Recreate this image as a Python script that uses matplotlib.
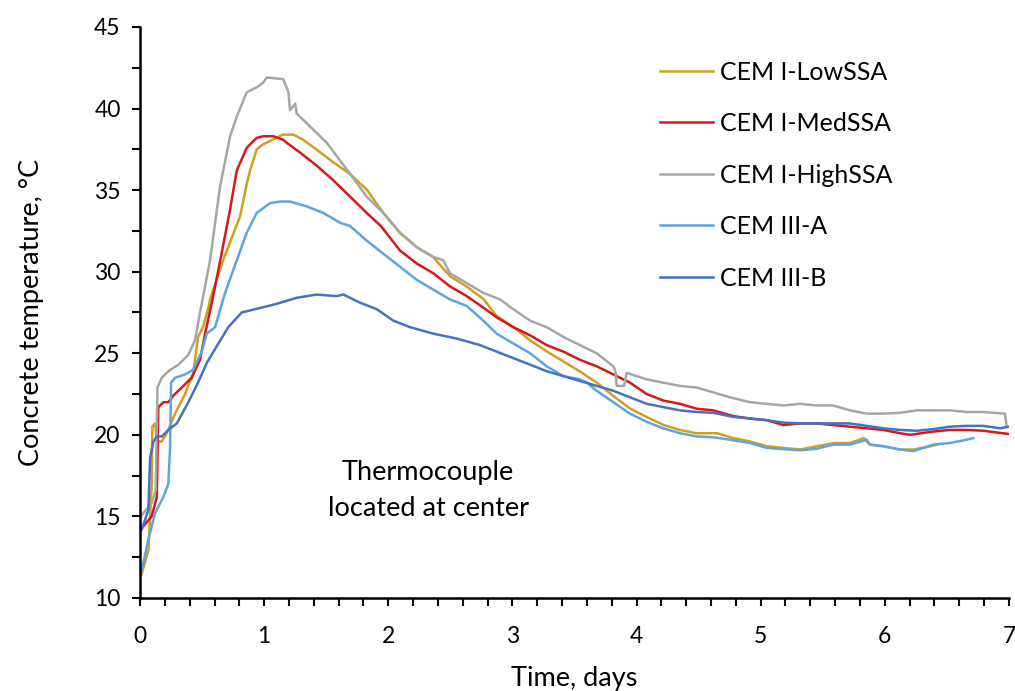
import numpy as np
import matplotlib
matplotlib.use("Agg")
import matplotlib.pyplot as plt
from matplotlib.ticker import MultipleLocator

plt.rcParams["font.family"] = ["Lato", "DejaVu Sans"]

# values (days, deg C)
low_x = [0.0, 0.014, 0.067, 0.081, 0.094, 0.099, 0.121, 0.135, 0.175, 0.215, 0.282, 0.362, 0.429,
         0.467, 0.507, 0.548, 0.564, 0.669, 0.806, 0.860, 0.886, 0.940, 0.99, 1.07, 1.15, 1.235,
         1.31, 1.42, 1.557, 1.69, 1.83, 1.96, 2.09, 2.23, 2.36, 2.50, 2.63, 2.77, 2.87, 3.01,
         3.14, 3.28, 3.41, 3.54, 3.68, 3.81, 3.95, 4.08, 4.22, 4.35, 4.48, 4.65, 4.78, 4.91,
         5.05, 5.18, 5.32, 5.45, 5.59, 5.72, 5.83, 5.88, 5.99, 6.12, 6.23, 6.34, 6.42]
low_y = [11.3, 11.5, 12.9, 15.0, 17.0, 20.5, 20.7, 19.6, 19.6, 20.1, 21.3, 22.5, 23.8,
         26.0, 26.6, 27.7, 28.3, 30.7, 33.4, 35.4, 36.2, 37.5, 37.8, 38.1, 38.4, 38.4,
         38.1, 37.5, 36.7, 36.0, 35.0, 33.6, 32.4, 31.5, 30.9, 29.7, 29.1, 28.3, 27.3, 26.6,
         25.8, 25.1, 24.5, 23.9, 23.2, 22.4, 21.6, 21.1, 20.6, 20.3, 20.1, 20.1, 19.8, 19.6,
         19.3, 19.2, 19.1, 19.3, 19.5, 19.5, 19.8, 19.4, 19.3, 19.1, 19.1, 19.25, 19.4]

med_x = [0.0, 0.014, 0.094, 0.135, 0.147, 0.188, 0.228, 0.268, 0.336, 0.416, 0.483, 0.524, 0.578,
         0.631, 0.725, 0.779, 0.860, 0.940, 0.993, 1.074, 1.15, 1.182, 1.289, 1.423, 1.557,
         1.692, 1.826, 1.94, 2.094, 2.229, 2.363, 2.497, 2.632, 2.765, 2.873, 3.007, 3.142,
         3.276, 3.410, 3.544, 3.679, 3.813, 3.947, 4.082, 4.215, 4.350, 4.484, 4.618, 4.779,
         4.914, 5.048, 5.182, 5.317, 5.451, 5.585, 5.719, 5.854, 5.988, 6.122, 6.203, 6.391,
         6.525, 6.659, 6.793, 7.0]
med_y = [14.2, 14.3, 15.0, 16.2, 21.7, 22.0, 22.0, 22.4, 22.9, 23.5, 24.6, 26.2, 28.1,
         30.1, 33.8, 36.2, 37.6, 38.2, 38.3, 38.3, 38.1, 37.9, 37.3, 36.5, 35.6,
         34.6, 33.6, 32.8, 31.3, 30.5, 29.9, 29.1, 28.5, 27.8, 27.2, 26.6, 26.1,
         25.5, 25.1, 24.6, 24.2, 23.7, 23.2, 22.5, 22.1, 21.9, 21.6, 21.5, 21.15,
         21.0, 20.9, 20.6, 20.7, 20.7, 20.6, 20.5, 20.4, 20.3, 20.1, 20.0, 20.2,
         20.3, 20.3, 20.25, 20.05]

high_x = [0.0, 0.014, 0.094, 0.126, 0.140, 0.175, 0.228, 0.309, 0.389, 0.443, 0.483, 0.564, 0.644,
          0.725, 0.779, 0.860, 0.940, 0.993, 1.02, 1.154, 1.195, 1.208, 1.25, 1.262, 1.369,
          1.504, 1.692, 1.826, 1.960, 2.094, 2.229, 2.363, 2.443, 2.497, 2.632, 2.765, 2.900,
          3.007, 3.142, 3.276, 3.410, 3.544, 3.679, 3.813, 3.83, 3.84, 3.90, 3.92, 4.082,
          4.215, 4.350, 4.484, 4.618, 4.753, 4.914, 5.048, 5.182, 5.317, 5.451, 5.585, 5.719,
          5.854, 5.988, 6.122, 6.257, 6.391, 6.525, 6.659, 6.793, 6.968, 6.982]
high_y = [14.9, 15.1, 15.8, 16.6, 22.9, 23.5, 23.9, 24.3, 24.9, 25.8, 27.5, 30.7, 35.2,
          38.3, 39.5, 41.0, 41.3, 41.6, 41.9, 41.8, 41.0, 39.9, 40.3, 39.7, 38.9,
          37.9, 36.0, 34.6, 33.6, 32.4, 31.5, 30.9, 30.7, 29.9, 29.3, 28.7, 28.3,
          27.7, 27.0, 26.6, 26.0, 25.5, 25.0, 24.2, 23.9, 23.0, 23.0, 23.8, 23.4,
          23.2, 23.0, 22.9, 22.6, 22.3, 22.0, 21.9, 21.8, 21.9, 21.8, 21.8, 21.5,
          21.3, 21.3, 21.35, 21.5, 21.5, 21.5, 21.4, 21.4, 21.3, 20.5]

iiia_x = [0.0, 0.014, 0.067, 0.121, 0.188, 0.228, 0.242, 0.250, 0.282, 0.362, 0.429, 0.497, 0.537,
          0.604, 0.685, 0.779, 0.860, 0.940, 1.047, 1.128, 1.208, 1.343, 1.477, 1.611, 1.692,
          1.826, 1.960, 2.094, 2.229, 2.363, 2.497, 2.632, 2.765, 2.873, 3.007, 3.142, 3.276,
          3.410, 3.544, 3.60, 3.679, 3.813, 3.947, 4.082, 4.215, 4.350, 4.484, 4.618, 4.753,
          4.914, 5.048, 5.317, 5.451, 5.585, 5.719, 5.854, 5.88, 5.988, 6.122, 6.229, 6.391,
          6.525, 6.659, 6.713]
iiia_y = [11.5, 11.7, 13.6, 15.2, 16.2, 17.0, 19.3, 23.2, 23.5, 23.7, 24.0, 25.1, 26.2,
          26.6, 28.7, 30.7, 32.4, 33.6, 34.2, 34.3, 34.3, 34.0, 33.6, 33.0, 32.8,
          31.9, 31.1, 30.3, 29.5, 28.9, 28.3, 27.9, 27.0, 26.2, 25.6, 25.0, 24.2,
          23.6, 23.4, 23.2, 22.7, 22.0, 21.3, 20.8, 20.4, 20.1, 19.9, 19.85, 19.7,
          19.5, 19.2, 19.05, 19.15, 19.4, 19.4, 19.7, 19.4, 19.3, 19.1, 19.0, 19.4,
          19.5, 19.7, 19.8]

iiib_x = [0.0, 0.014, 0.067, 0.081, 0.107, 0.135, 0.175, 0.228, 0.296, 0.389, 0.467, 0.537, 0.631,
          0.711, 0.819, 0.926, 1.087, 1.262, 1.423, 1.584, 1.638, 1.772, 1.907, 2.040, 2.175,
          2.363, 2.551, 2.739, 2.873, 3.007, 3.142, 3.276, 3.410, 3.544, 3.679, 3.813, 3.947,
          4.082, 4.215, 4.350, 4.484, 4.618, 4.779, 4.914, 5.048, 5.182, 5.317, 5.585, 5.719,
          5.854, 5.988, 6.122, 6.257, 6.391, 6.525, 6.659, 6.793, 6.928, 7.0]
iiib_y = [14.1, 14.2, 15.4, 18.6, 19.6, 19.9, 19.9, 20.3, 20.7, 22.0, 23.2, 24.4, 25.6,
          26.6, 27.5, 27.7, 28.0, 28.4, 28.6, 28.5, 28.6, 28.1, 27.7, 27.0, 26.6,
          26.2, 25.9, 25.5, 25.1, 24.7, 24.3, 23.9, 23.6, 23.3, 23.0, 22.7, 22.3,
          21.9, 21.7, 21.5, 21.4, 21.35, 21.1, 21.0, 20.9, 20.75, 20.7, 20.7, 20.7,
          20.55, 20.4, 20.3, 20.25, 20.35, 20.5, 20.55, 20.55, 20.4, 20.5]

series = [
    ("CEM I-LowSSA", low_x, low_y, "#CFA020"),
    ("CEM I-MedSSA", med_x, med_y, "#D8171C"),
    ("CEM I-HighSSA", high_x, high_y, "#A6A6A6"),
    ("CEM III-A", iiia_x, iiia_y, "#5DA5E0"),
    ("CEM III-B", iiib_x, iiib_y, "#4472C4"),
]

fig = plt.figure(figsize=(10.15, 6.91), dpi=100)
ax = fig.add_axes([0.138, 0.1346, 0.856, 0.8264])

for label, xs, ys, color in series:
    ax.plot(xs, ys, color=color, lw=1.8, label=label)

ax.set_xlim(0, 7)
ax.set_ylim(10, 45)
ax.xaxis.set_major_locator(MultipleLocator(1))
ax.xaxis.set_minor_locator(MultipleLocator(0.2))
ax.yaxis.set_major_locator(MultipleLocator(5))
ax.yaxis.set_minor_locator(MultipleLocator(2.5))
ax.tick_params(which="both", direction="out", length=6, width=1.5, labelsize=16.5)
ax.tick_params(axis="x", pad=14)
ax.tick_params(axis="y", pad=8)
for side in ["top", "right"]:
    ax.spines[side].set_visible(False)
for side in ["left", "bottom"]:
    ax.spines[side].set_linewidth(1.8)

ax.set_xlabel("Time, days", fontsize=19.5, labelpad=14)
ax.set_ylabel("Concrete temperature, °C", fontsize=19.5, labelpad=36)

ax.text(2.32, 16.6, "Thermocouple\nlocated at center", fontsize=19.5, ha="center", va="center",
        linespacing=1.55)

ax.legend(loc="upper left", bbox_to_anchor=(0.628, 0.945), bbox_transform=fig.transFigure,
          frameon=False, fontsize=18, handlelength=2.12, handletextpad=0.28, labelspacing=1.14)

fig.savefig("out.png", dpi=100)
